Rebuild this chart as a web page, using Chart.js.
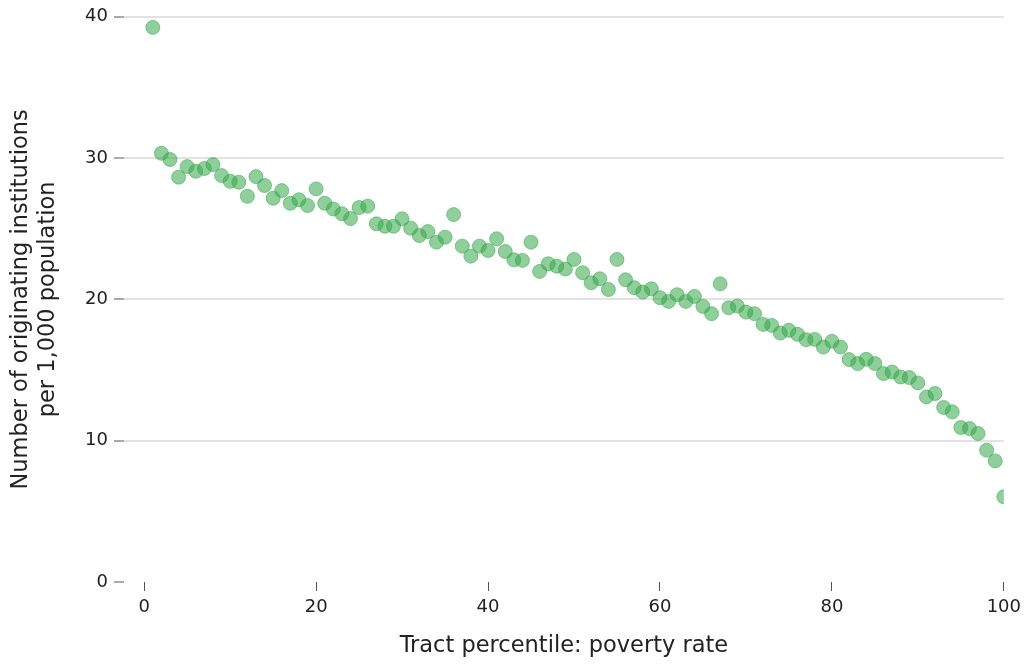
<!DOCTYPE html>
<html>
<head>
<meta charset="utf-8">
<script src="https://cdn.jsdelivr.net/npm/chart.js@4"></script>
<style>
  html, body { margin: 0; padding: 0; background: #ffffff; }
  #wrap { width: 1027px; height: 664px; position: relative; }
</style>
</head>
<body>
<div id="wrap"><canvas id="chart"></canvas></div>
<script>
// Tract percentile (poverty rate) on x, institutions per 1,000 people on y
const percentiles = Array.from({ length: 100 }, (_, i) => i + 1);
const institutionsPer1000 = [
  39.25, 30.34, 29.90, 28.65, 29.40, 29.07, 29.26, 29.54, 28.76, 28.36,
  28.29, 27.30, 28.69, 28.06, 27.16, 27.70, 26.80, 27.05, 26.64, 27.82,
  26.80, 26.40, 26.06, 25.72, 26.50, 26.60, 25.35, 25.18, 25.18, 25.70,
  25.04, 24.52, 24.80, 24.05, 24.40, 26.00, 23.77, 23.06, 23.77, 23.46,
  24.29, 23.39, 22.80, 22.76, 24.05, 21.98, 22.52, 22.35, 22.15, 22.83,
  21.89, 21.18, 21.46, 20.70, 22.83, 21.39, 20.83, 20.52, 20.75, 20.12,
  19.86, 20.33, 19.86, 20.21, 19.50, 18.99, 21.10, 19.41, 19.53, 19.10,
  18.99, 18.23, 18.16, 17.62, 17.81, 17.53, 17.15, 17.17, 16.63, 17.03,
  16.63, 15.74, 15.46, 15.76, 15.46, 14.75, 14.86, 14.51, 14.47, 14.09,
  13.10, 13.34, 12.35, 12.04, 10.93, 10.86, 10.51, 9.33, 8.57, 6.03
];
const xTickValues = [0, 20, 40, 60, 80, 100];
const yTickValues = [0, 10, 20, 30, 40];
const xTitle = 'Tract percentile: poverty rate';
const yTitle = ['Number of originating institutions', 'per 1,000 population'];

const points = percentiles.map((p, i) => ({ x: p, y: institutionsPer1000[i] }));

const FONT = "'DejaVu Sans', 'Liberation Sans', sans-serif";

new Chart(document.getElementById('chart'), {
  type: 'scatter',
  data: {
    datasets: [{
      data: points,
      backgroundColor: 'rgba(52, 168, 72, 0.55)',
      borderColor: 'rgba(52, 168, 72, 0.55)',
      borderWidth: 1,
      pointRadius: 7,
      pointHoverRadius: 7
    }]
  },
  options: {
    responsive: true,
    maintainAspectRatio: false,
    animation: false,
    layout: { padding: { top: 16, right: 21, left: 0, bottom: 0 } },
    plugins: {
      legend: { display: false },
      tooltip: { enabled: false }
    },
    scales: {
      x: {
        type: 'linear',
        min: -2.35,
        max: 100,
        afterBuildTicks: s => { s.ticks = xTickValues.map(v => ({ value: v })); },
        afterFit: s => { s.height = 82; },
        border: { display: false },
        grid: {
          drawOnChartArea: false,
          drawTicks: true,
          tickLength: 9,
          tickColor: '#555555',
          tickWidth: 1
        },
        ticks: {
          color: '#222222',
          padding: 6,
          font: { family: FONT, size: 18 },
          maxRotation: 0
        },
        title: {
          display: true,
          text: xTitle,
          color: '#222222',
          font: { family: FONT, size: 22.5, lineHeight: 1.2 },
          padding: { top: 0, bottom: 4 }
        }
      },
      y: {
        type: 'linear',
        min: 0,
        max: 40,
        afterBuildTicks: s => { s.ticks = yTickValues.map(v => ({ value: v })); },
        afterFit: s => { s.width = 124; },
        border: { display: false },
        grid: {
          drawOnChartArea: true,
          drawTicks: true,
          tickLength: 10,
          color: ctx => (ctx.tick && ctx.tick.value === 0) ? 'rgba(0,0,0,0)' : '#e2e2e2',
          lineWidth: 2,
          tickColor: '#555555',
          tickWidth: 1
        },
        ticks: {
          color: '#222222',
          padding: 6,
          font: { family: FONT, size: 18 }
        },
        title: {
          display: true,
          text: yTitle,
          color: '#222222',
          font: { family: FONT, size: 22.5, lineHeight: 1.2 },
          padding: { top: 8, bottom: 0 }
        }
      }
    }
  }
});
</script>
</body>
</html>
